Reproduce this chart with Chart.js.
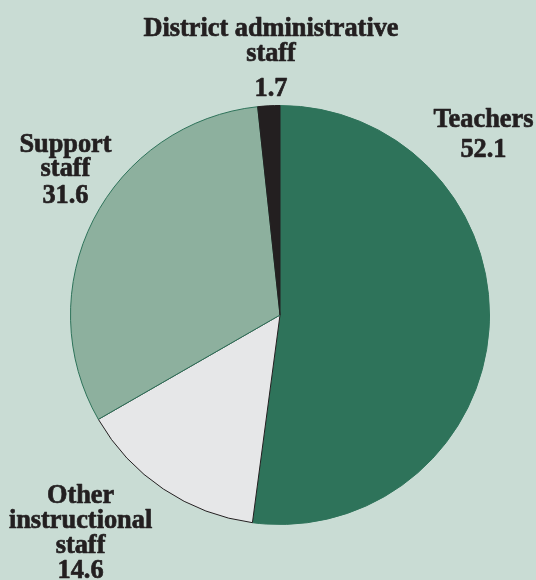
<!DOCTYPE html>
<html>
<head>
<meta charset="utf-8">
<script src="https://cdn.jsdelivr.net/npm/chart.js@4/dist/chart.umd.min.js"></script>
<style>
  html, body { margin: 0; padding: 0; background: #c9dcd4; }
  canvas { display: block; }
</style>
</head>
<body>
<canvas id="pie" width="536" height="580"></canvas>
<script>
// Share of school staff by category (percent)
const categories = ['Teachers', 'Other instructional staff', 'Support staff', 'District administrative staff'];
const labelLines = [['Teachers'], ['Other', 'instructional', 'staff'], ['Support', 'staff'], ['District administrative', 'staff']];
const shares = [52.1, 14.6, 31.6, 1.7];

const fillColors = ['#2e735a', '#e6e7e8', '#8db09e', '#231f20'];
const edgeColors = ['#2e735a', '#231f20', '#2e735a', '#231f20'];

// Label placement: anchor (in pie radii from centre) of first baseline, line step, extra gap before value
const labelStyle = [
  { ux: 0.971, uy: -0.895, step: 30, gap: 0 },
  { ux: -0.952, uy: 0.895, step: 25, gap: 0 },
  { ux: -1.024, uy: -0.776, step: 24, gap: 3 },
  { ux: -0.043, uy: -1.333, step: 25, gap: 10 }
];

const background = {
  id: 'background',
  beforeDraw(chart) {
    const ctx = chart.ctx;
    ctx.save();
    ctx.fillStyle = '#c9dcd4';
    ctx.fillRect(0, 0, chart.width, chart.height);
    ctx.restore();
  }
};

// Heavy, slightly condensed serif text
function drawText(ctx, t, x, y) {
  const sx = 0.94;
  ctx.save();
  ctx.translate(x, y);
  ctx.scale(sx, 1);
  ctx.strokeText(t, 0, 0);
  ctx.fillText(t, 0, 0);
  ctx.restore();
}

const sliceLabels = {
  id: 'sliceLabels',
  afterDatasetsDraw(chart) {
    const ctx = chart.ctx;
    const meta = chart.getDatasetMeta(0);
    ctx.save();
    ctx.fillStyle = '#231f20';
    ctx.strokeStyle = '#231f20';
    ctx.lineWidth = 0.7;
    ctx.lineJoin = 'round';
    ctx.textAlign = 'center';
    ctx.textBaseline = 'alphabetic';
    ctx.font = 'bold 28px "Liberation Serif", serif';
    meta.data.forEach((arc, i) => {
      const s = labelStyle[i];
      const r = arc.outerRadius;
      const x = arc.x + s.ux * r;
      let y = arc.y + s.uy * r;
      labelLines[i].forEach(t => {
        drawText(ctx, t, x, y);
        y += s.step;
      });
      y += s.gap;
      drawText(ctx, shares[i].toFixed(1), x, y);
    });
    ctx.restore();
  }
};

new Chart(document.getElementById('pie'), {
  type: 'pie',
  data: {
    labels: categories,
    datasets: [{
      data: shares,
      backgroundColor: fillColors,
      borderColor: edgeColors,
      borderWidth: 1
    }]
  },
  options: {
    responsive: false,
    animation: false,
    layout: { padding: { left: 70, right: 46, top: 105, bottom: 55 } },
    plugins: {
      legend: { display: false },
      tooltip: { enabled: false }
    }
  },
  plugins: [background, sliceLabels]
});
</script>
</body>
</html>
